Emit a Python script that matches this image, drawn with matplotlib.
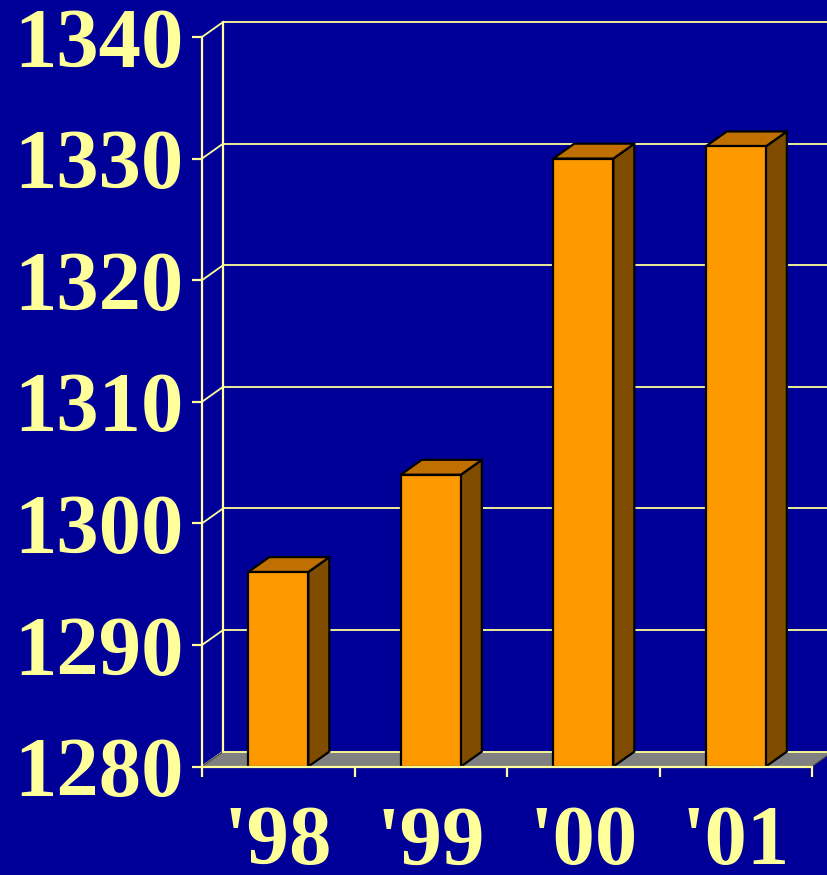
import matplotlib
matplotlib.use("Agg")
import matplotlib.pyplot as plt
from matplotlib.patches import Polygon

# data
years = ["'98", "'99", "'00", "'01"]
values = [1296, 1304, 1330, 1331]
y_ticks = [1280, 1290, 1300, 1310, 1320, 1330, 1340]

bg = "#000099"
yellow = "#FFFF99"
front_col = "#FF9900"
side_col = "#7F4C00"
top_col = "#C07000"
floor_col = "#808080"

ymin, ymax = 1280, 1340
dx, dy = 0.138, 1.23   # depth offset of the 3d look, in data units
half_w = 0.197

fig = plt.figure(figsize=(8.27, 8.75), dpi=100, facecolor=bg)
ax = fig.add_axes([202 / 827, (875 - 766.6) / 875, 610 / 827, (766.6 - 37) / 875])
ax.set_facecolor("none")
ax.set_xlim(-0.5, len(years) - 0.5)
ax.set_ylim(ymin, ymax)

xl, xr = -0.5, len(years) - 0.5

# back wall grid + side wall diagonals
for v in y_ticks:
    ax.plot([xl + dx, xr + dx + 0.3], [v + dy, v + dy], color=yellow, lw=1.3,
            zorder=1, clip_on=False)
    ax.plot([xl, xl + dx], [v, v + dy], color=yellow, lw=1.3, zorder=1, clip_on=False)
ax.plot([xl + dx, xl + dx], [ymin + dy, ymax + dy], color=yellow, lw=1.6,
        zorder=1, clip_on=False)

# floor
floor = Polygon([(xl, ymin), (xr, ymin), (xr + dx, ymin + dy), (xl + dx, ymin + dy)],
                closed=True, facecolor=floor_col, edgecolor="#404040", lw=0.8,
                zorder=2, clip_on=False)
ax.add_patch(floor)
ax.plot([xl + dx, xr + dx + 0.3], [ymin + dy, ymin + dy], color=yellow, lw=1.3,
        zorder=2, clip_on=False)

# 3d looking bars
for i, v in enumerate(values):
    x0, x1 = i - half_w, i + half_w
    side = Polygon([(x1, ymin), (x1 + dx, ymin + dy), (x1 + dx, v + dy), (x1, v)],
                   closed=True, facecolor=side_col, edgecolor="black", lw=1.6,
                   zorder=3, clip_on=False)
    top = Polygon([(x0, v), (x1, v), (x1 + dx, v + dy), (x0 + dx, v + dy)],
                  closed=True, facecolor=top_col, edgecolor="black", lw=1.6,
                  zorder=3, clip_on=False)
    front = Polygon([(x0, ymin), (x1, ymin), (x1, v), (x0, v)],
                    closed=True, facecolor=front_col, edgecolor="black", lw=1.6,
                    zorder=4, clip_on=False)
    ax.add_patch(side)
    ax.add_patch(top)
    ax.add_patch(front)

# axes
for s in ["top", "right"]:
    ax.spines[s].set_visible(False)
for s in ["left", "bottom"]:
    ax.spines[s].set_color(yellow)
    ax.spines[s].set_linewidth(1.6)
    ax.spines[s].set_zorder(5)

font = dict(family="Liberation Serif", weight="bold", size=61)

ax.set_yticks(y_ticks)
ax.set_yticklabels([str(t) for t in y_ticks], color=yellow, **font)
ax.tick_params(axis="y", direction="out", length=7, width=1.6, color=yellow, pad=6)

ax.set_xticks([k - 0.5 for k in range(len(years) + 1)])
ax.set_xticklabels([])
ax.tick_params(axis="x", which="major", direction="out", length=7, width=1.6,
               color=yellow)
ax.set_xticks(range(len(years)), minor=True)
ax.set_xticklabels(years, minor=True, color=yellow, **font)
ax.tick_params(axis="x", which="minor", length=0, pad=28)

fig.savefig("out.png", dpi=100, facecolor=bg)
